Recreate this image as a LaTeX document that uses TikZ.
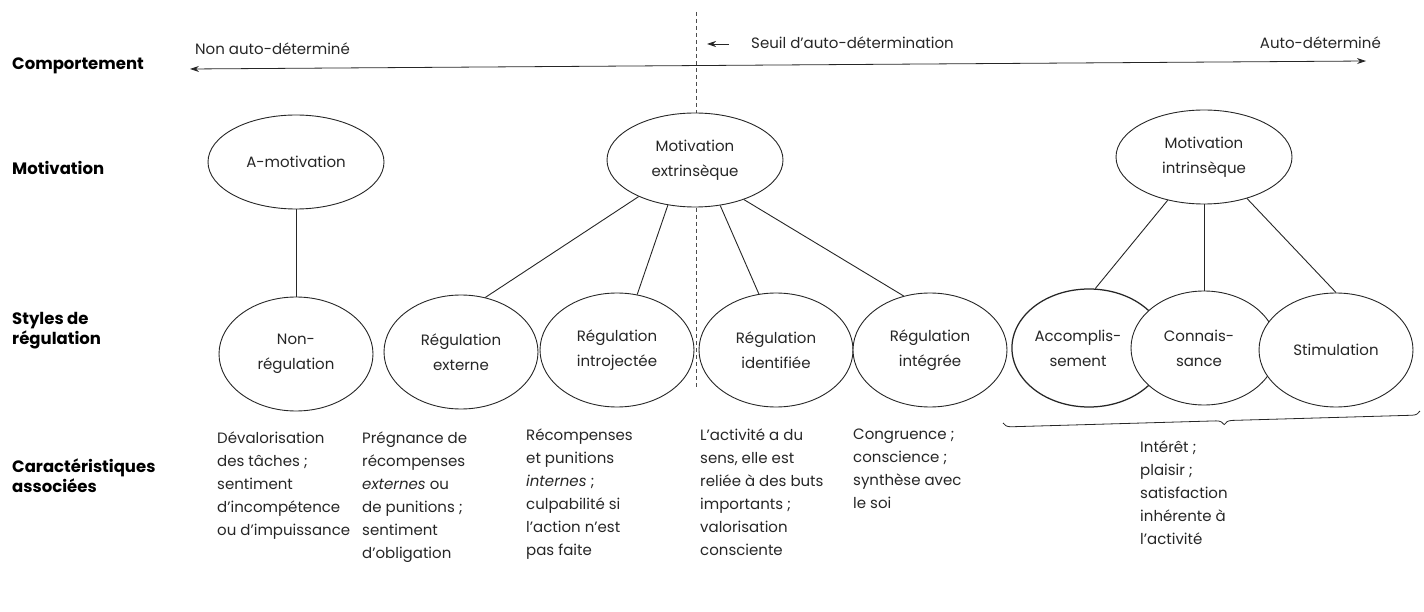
\documentclass[tikz,border=0pt]{standalone}
\usepackage{fontspec}
\setmainfont{Poppins}
\usetikzlibrary{shapes.geometric,arrows.meta,decorations.pathreplacing}
\begin{document}
\begin{tikzpicture}[x=1pt,y=-1pt,
  lbl/.style={anchor=west, align=left, inner sep=0pt, font=\bfseries\fontsize{16.5}{20}\selectfont},
  ell/.style={ellipse, draw=black!85, line width=0.9pt, fill=white, inner sep=0pt, align=center, font=\fontsize{15}{25}\selectfont, text=black!85},
  topell/.style={ell, minimum width=176pt, minimum height=94pt},
  regell/.style={ell, minimum width=154pt, minimum height=114pt},
  caract/.style={anchor=north west, align=left, inner sep=0pt, font=\fontsize{15}{23}\selectfont, text=black!85},
  toptxt/.style={inner sep=0pt, font=\fontsize{15}{19}\selectfont, text=black!85},
  link/.style={draw=black!85, line width=0.9pt},
  tip/.style={-{Stealth[length=9pt,width=6pt]}},
]
\useasboundingbox (0,0) rectangle (1424,612);
% left labels
\node[lbl] (lcomp) at (12,66) {Comportement};
\node[lbl] (lmot) at (12,168) {Motivation};
\node[lbl] (lsty) at (12,331) {Styles de\\régulation};
\node[lbl] (lcar) at (12,476) {Caractéristiques\\associées};
% behaviour axis
\coordinate (aL) at (190,69);
\coordinate (aR) at (1366,61);
\draw[{Stealth[length=9pt,width=6pt]}-{Stealth[length=9pt,width=6pt]}, line width=0.8pt, black!85] (aL) -- (aR);
\node[toptxt, anchor=base west] (tnon) at (195,55) {Non auto-déterminé};
\node[toptxt, anchor=base west] (tseuil) at (751,49) {Seuil d'auto-détermination};
\node[toptxt, anchor=base east] (tauto) at (1381,49) {Auto-déterminé};
\coordinate (sA) at (707,44);
\coordinate (sB) at (729,44);
\draw[tip, line width=0.8pt, black!85] (sB) -- (sA);
% threshold
\coordinate (dT) at (696,12);
\coordinate (dB) at (696,388);
\draw[black!70, line width=0.6pt, dash pattern=on 4pt off 3pt] (dT) -- (dB);
% motivation ellipses
\node[topell] (amot) at (296,162) {A-motivation};
\node[topell] (mext) at (695,160) {Motivation\\extrinsèque};
\node[topell] (mint) at (1204,157) {Motivation\\intrinsèque};
% regulation styles
\node[regell] (nonreg) at (296,354) {Non-\\régulation};
\node[regell] (rext) at (461,352) {Régulation\\externe};
\node[regell] (rintro) at (617,350) {Régulation\\introjectée};
\node[regell] (rident) at (776,350) {Régulation\\identifiée};
\node[regell] (rinteg) at (930,350) {Régulation\\intégrée};
\node[regell, line width=1.25pt, minimum height=118pt] (accomp) at (1089,348) {Accomplis-\kern22pt\\sement\kern22pt};
\node[regell, minimum width=146pt] (conn) at (1204,348) {Connais-\kern10pt\\sance\kern10pt};
\node[regell] (stim) at (1336,350) {Stimulation};
% links
\draw[link] (amot.south) -- (nonreg.north);
\draw[link] (mext.213) -- (rext.66);
\draw[link] (mext.239) -- (rintro.70);
\draw[link] (mext.299) -- (rident.107);
\draw[link] (mext.321) -- (rinteg.116);
\draw[link] (mint.230) -- (accomp.84);
\draw[link] (mint.south) -- (conn.north);
\draw[link] (mint.316) -- (stim.north);
% brace
\coordinate (bL) at (1003,423);
\coordinate (bR) at (1420,411);
\draw[decorate, decoration={brace, amplitude=8pt, aspect=0.53, mirror}, line width=0.8pt, black!85] (bL) -- (bR);
% characteristics
\node[caract] (c1) at (217,432) {Dévalorisation\\des tâches ;\\sentiment\\d'incompétence\\ou d'impuissance};
\node[caract] (c2) at (362,432) {Prégnance de\\récompenses\\\textit{externes} ou\\de punitions ;\\sentiment\\d'obligation};
\node[caract] (c3) at (526,429) {Récompenses\\et punitions\\\textit{internes} ;\\culpabilité si\\l'action n'est\\pas faite};
\node[caract] (c4) at (700,429) {L'activité a du\\sens, elle est\\reliée à des buts\\importants ;\\valorisation\\consciente};
\node[caract] (c5) at (853,429) {Congruence ;\\conscience ;\\synthèse avec\\le soi};
\node[caract] (c6) at (1140,441) {Intérêt ;\\plaisir ;\\satisfaction\\inhérente à\\l'activité};
\end{tikzpicture}
\end{document}
